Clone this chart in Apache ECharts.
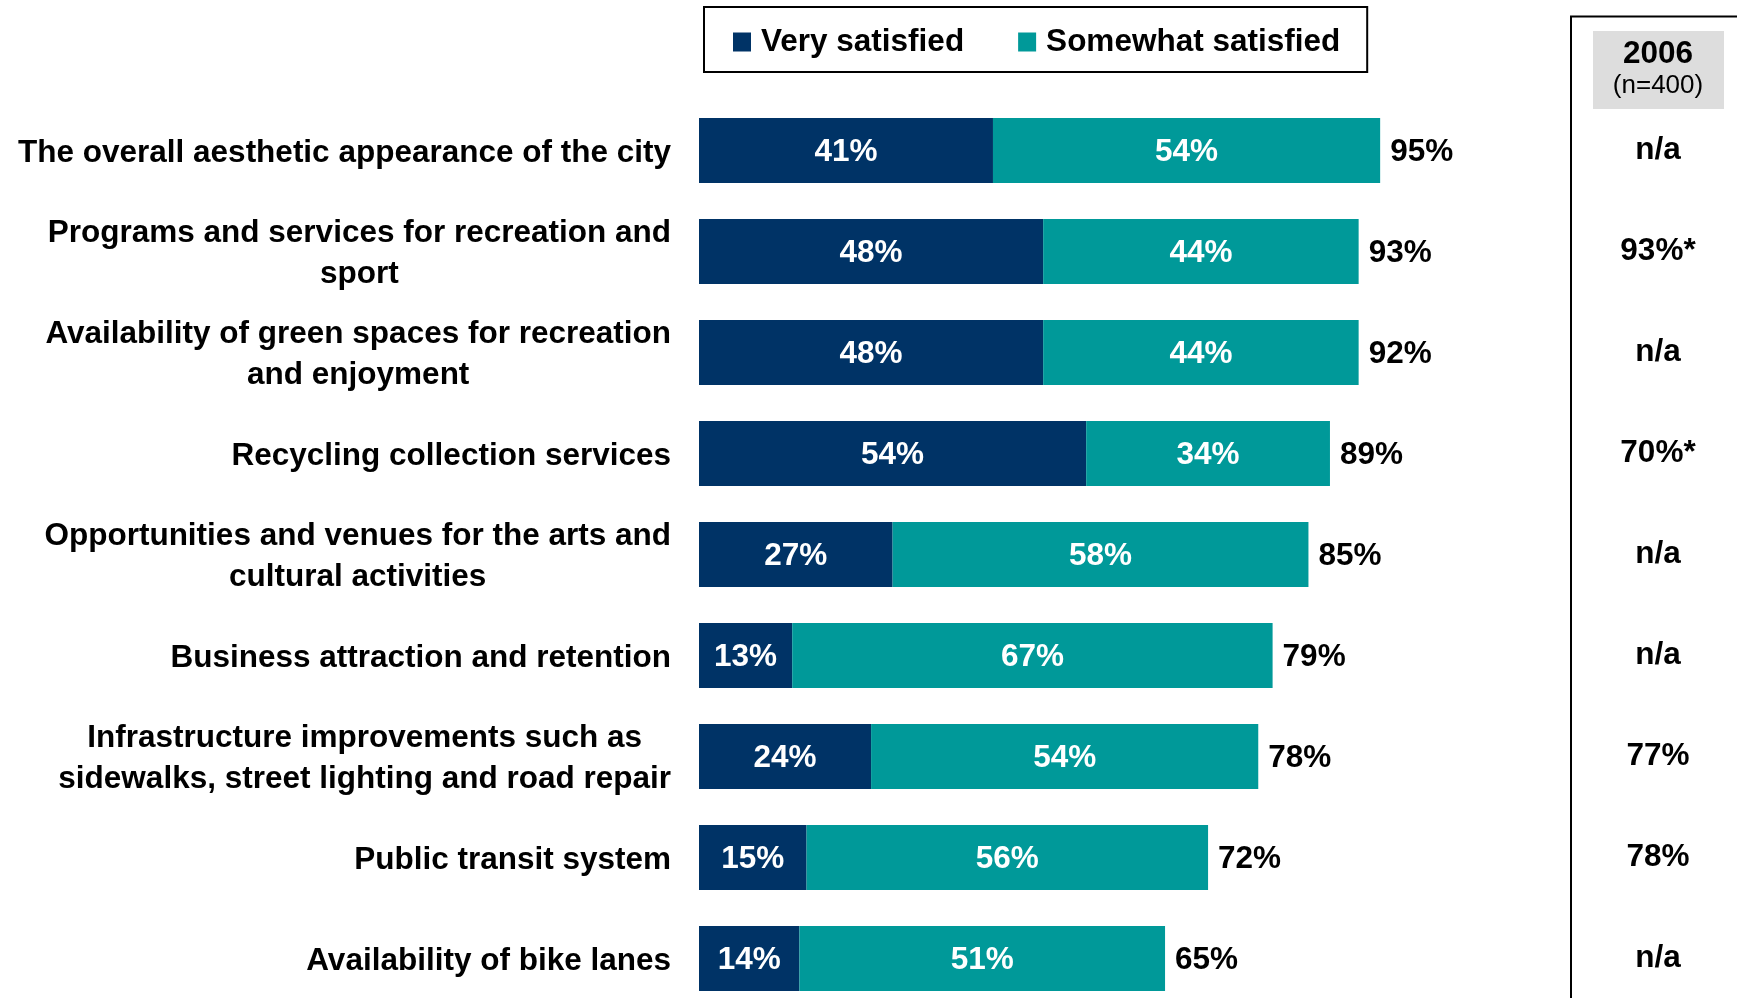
<!DOCTYPE html>
<html>
<head>
<meta charset="utf-8">
<script src="https://cdn.jsdelivr.net/npm/echarts@6/dist/echarts.min.js"></script>
<style>
html,body{margin:0;padding:0;background:#fff;}
#chart{width:1737px;height:998px;}
</style>
</head>
<body>
<div id="chart"></div>
<script>
const categories = [
  "The overall aesthetic appearance of the city",
  "Programs and services for recreation and\nsport",
  "Availability of green spaces for recreation\nand enjoyment",
  "Recycling collection services",
  "Opportunities and venues for the arts and\ncultural activities",
  "Business attraction and retention",
  "Infrastructure improvements such as\nsidewalks, street lighting and road repair",
  "Public transit system",
  "Availability of bike lanes"
];
const verySatisfied = [41, 48, 48, 54, 27, 13, 24, 15, 14];
const somewhatSatisfied = [54, 44, 44, 34, 58, 67, 54, 56, 51];
const totals = [95, 93, 92, 89, 85, 79, 78, 72, 65];
const values2006 = ["n/a", "93%*", "n/a", "70%*", "n/a", "n/a", "77%", "78%", "n/a"];
const header2006 = "2006";
const headerN = "(n=400)";

const FONT = "'Liberation Sans', Arial, Helvetica, sans-serif";
const FS = 31.5;
const DARK = "#003366";
const TEAL = "#009999";

const chart = echarts.init(document.getElementById('chart'), null, {renderer: 'canvas'});

const stackEnds = verySatisfied.map((v, i) => v + somewhatSatisfied[i]);

const option = {
  backgroundColor: '#ffffff',
  animation: false,
  textStyle: {fontFamily: FONT},
  legend: {
    data: ['Very satisfied', 'Somewhat satisfied'],
    left: 704,
    top: 7,
    orient: 'horizontal',
    borderColor: '#000',
    borderWidth: 2,
    padding: [19, 27, 14, 29],
    itemGap: 54,
    itemWidth: 18,
    itemHeight: 19,
    icon: 'rect',
    selectedMode: false,
    textStyle: {fontFamily: FONT, fontSize: FS, fontWeight: 'bold', color: '#000', padding: [0, 0, 0, 5]}
  },
  grid: {left: 699, top: 100, width: 717, height: 909, containLabel: false, outerBoundsMode: 'none'},
  xAxis: {type: 'value', min: 0, max: 100, show: false},
  yAxis: [
    {
      type: 'category',
      data: categories,
      inverse: true,
      axisLine: {show: false},
      axisTick: {show: false},
      axisLabel: {
        margin: 28,
        fontFamily: FONT,
        fontSize: FS,
        fontWeight: 'bold',
        color: '#000',
        lineHeight: 41,
        padding: [5, 0, 0, 0],
        formatter: function (v) {
          return v.split('\n').map(s => '{c|' + s + '}').join('\n');
        },
        rich: {c: {align: 'center', fontFamily: FONT, fontSize: FS, fontWeight: 'bold', color: '#000', lineHeight: 41}}
      }
    },
    {
      type: 'category',
      data: values2006,
      inverse: true,
      position: 'right',
      axisLine: {show: false},
      axisTick: {show: false},
      axisLabel: {
        margin: 242,
        align: 'center',
        padding: [5, 0, 0, 0],
        fontFamily: FONT,
        fontSize: FS,
        fontWeight: 'bold',
        color: '#000'
      }
    }
  ],
  series: [
    {
      name: 'Very satisfied',
      type: 'bar',
      stack: 'sat',
      data: verySatisfied,
      barWidth: 65,
      itemStyle: {color: DARK},
      label: {show: true, position: 'inside', offset: [0, 2], formatter: '{c}%', color: '#fff', fontFamily: FONT, fontSize: FS, fontWeight: 'bold'}
    },
    {
      name: 'Somewhat satisfied',
      type: 'bar',
      stack: 'sat',
      data: somewhatSatisfied,
      barWidth: 65,
      itemStyle: {color: TEAL},
      label: {show: true, position: 'inside', offset: [0, 2], formatter: '{c}%', color: '#fff', fontFamily: FONT, fontSize: FS, fontWeight: 'bold'}
    },
    {
      name: 'Total',
      type: 'bar',
      data: stackEnds,
      barWidth: 65,
      barGap: '-100%',
      z: 1,
      silent: true,
      itemStyle: {color: 'rgba(0,0,0,0)'},
      label: {
        show: true, position: 'right', distance: 10, offset: [0, 2],
        formatter: p => totals[p.dataIndex] + '%',
        color: '#000', fontFamily: FONT, fontSize: FS, fontWeight: 'bold'
      }
    }
  ],
  graphic: [
    {type: 'polyline', shape: {points: [[1571, 1000], [1571, 16.5], [1740, 16.5]]}, style: {stroke: '#000', lineWidth: 2, fill: null}},
    {type: 'rect', shape: {x: 1593, y: 31, width: 131, height: 78}, style: {fill: '#DDDDDD'}},
    {type: 'text', x: 1658, y: 54, style: {text: header2006, fontFamily: FONT, fontSize: FS, fontWeight: 'bold', fill: '#000', align: 'center', verticalAlign: 'middle'}},
    {type: 'text', x: 1658, y: 86, style: {text: headerN, fontFamily: FONT, fontSize: 26, fill: '#000', align: 'center', verticalAlign: 'middle'}}
  ]
};
chart.setOption(option);
</script>
</body>
</html>
